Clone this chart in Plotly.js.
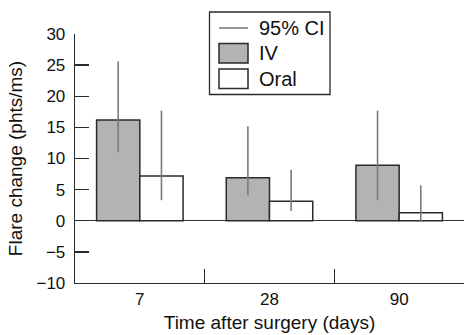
<!DOCTYPE html>
<html>
<head>
<meta charset="utf-8">
<script src="https://cdn.plot.ly/plotly-3.0.1.min.js"></script>
<style>html,body{margin:0;padding:0;background:#fff;}#chart{width:466px;height:335px;}</style>
</head>
<body>
<div id="chart"></div>
<script>
var categories = ['7', '28', '90'];
var ivValues = [16.2, 6.9, 8.9];
var ivLow = [11.0, 4.1, 3.3];
var ivHigh = [25.6, 15.2, 17.7];
var oralValues = [7.2, 3.15, 1.3];
var oralLow = [3.3, 1.55, -0.2];
var oralHigh = [17.7, 8.2, 5.7];
var legendLabels = ['95% CI', 'IV', 'Oral'];

var FONT = 'Liberation Sans, Arial, sans-serif';
var IVFILL = '#b3b3b3';
var EDGE = '#2a2a2a';
var CICOL = '#7a7a7a';

function errs(vals, lo, hi) {
  return {
    type: 'data', symmetric: false,
    array: vals.map(function (v, i) { return hi[i] - v; }),
    arrayminus: vals.map(function (v, i) { return v - lo[i]; }),
    color: CICOL, thickness: 1.6, width: 0
  };
}

var traces = [
  { type: 'bar', x: categories, y: ivValues, name: legendLabels[1],
    marker: { color: IVFILL, line: { color: EDGE, width: 1.5 } },
    error_y: errs(ivValues, ivLow, ivHigh), showlegend: false },
  { type: 'bar', x: categories, y: oralValues, name: legendLabels[2],
    marker: { color: '#ffffff', line: { color: EDGE, width: 1.5 } },
    error_y: errs(oralValues, oralLow, oralHigh), showlegend: false }
];

// plot area in pixels: x 75..464, y 34..283
function px(x) { return (x - 75) / 389; }
function py(y) { return (283 - y) / 249; }

var shapes = [
  { type: 'rect', xref: 'paper', yref: 'paper', x0: px(209.5), x1: px(330), y0: py(12), y1: py(94.5),
    line: { color: EDGE, width: 1.3 }, fillcolor: '#fff' },
  { type: 'line', xref: 'paper', yref: 'paper', x0: px(219), x1: px(248), y0: py(28), y1: py(28),
    line: { color: CICOL, width: 1.6 } },
  { type: 'rect', xref: 'paper', yref: 'paper', x0: px(219), x1: px(248), y0: py(43.5), y1: py(63),
    line: { color: EDGE, width: 1.5 }, fillcolor: IVFILL },
  { type: 'rect', xref: 'paper', yref: 'paper', x0: px(219), x1: px(248), y0: py(69), y1: py(88.5),
    line: { color: EDGE, width: 1.5 }, fillcolor: '#fff' }
];

var legY = [28.5, 53.5, 79];
var annotations = legendLabels.map(function (t, i) {
  return { xref: 'paper', yref: 'paper', x: px(257), y: py(legY[i]), xanchor: 'left', yanchor: 'middle',
    text: t, showarrow: false, font: { family: FONT, size: 20, color: '#111' } };
});

var layout = {
  width: 466, height: 335,
  margin: { l: 75, r: 2, t: 34, b: 52, pad: 0 },
  paper_bgcolor: '#fff', plot_bgcolor: '#fff',
  barmode: 'group', bargap: 0.333, bargroupgap: 0,
  showlegend: false,
  font: { family: FONT, size: 16, color: '#111' },
  xaxis: {
    type: 'category', range: [-0.5, 2.5], tickson: 'boundaries',
    ticks: 'inside', ticklen: 14, tickwidth: 1.3, tickcolor: EDGE,
    showline: true, linecolor: EDGE, linewidth: 1.3, showgrid: false, zeroline: false,
    tickfont: { family: FONT, size: 17, color: '#111' },
    title: { text: 'Time after surgery (days)', font: { family: FONT, size: 19, color: '#111' }, standoff: 8 }
  },
  yaxis: {
    range: [-10, 30], dtick: 5, tick0: 0,
    ticks: 'inside', ticklen: 14, tickwidth: 1.3, tickcolor: EDGE,
    showline: true, linecolor: EDGE, linewidth: 1.3, showgrid: false,
    zeroline: true, zerolinecolor: '#333', zerolinewidth: 1.3,
    tickfont: { family: FONT, size: 17, color: '#111' },
    ticklabelstandoff: 5,
    tickformat: 'd',
    title: { text: 'Flare change (phts/ms)', font: { family: FONT, size: 19, color: '#111' }, standoff: 8 }
  },
  shapes: shapes,
  annotations: annotations
};

Plotly.newPlot('chart', traces, layout, { displayModeBar: false, staticPlot: true });
</script>
</body>
</html>
